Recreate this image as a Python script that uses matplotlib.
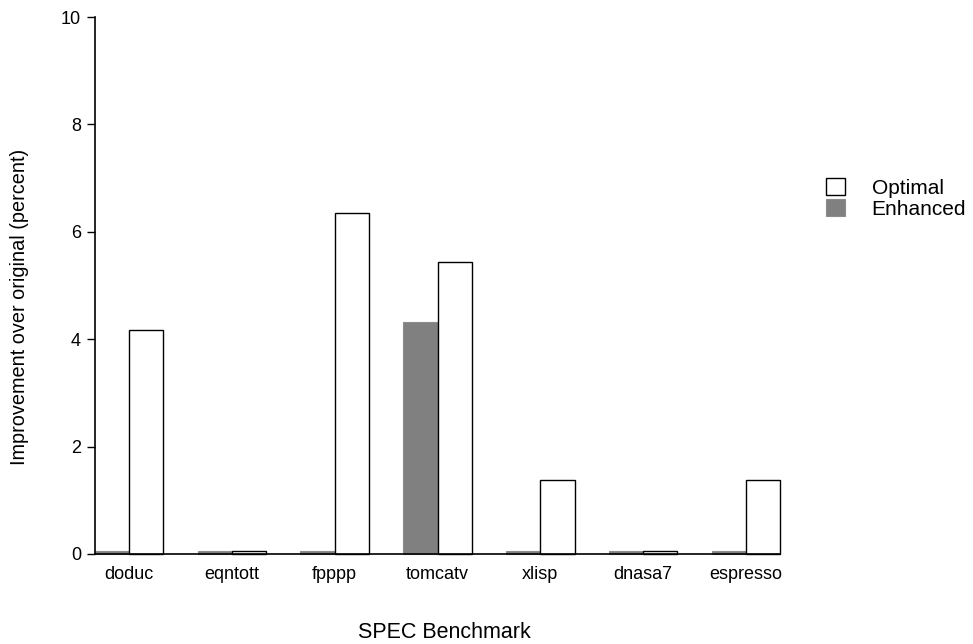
import numpy as np
import matplotlib.pyplot as plt

plt.rcParams['font.family'] = ['Liberation Sans', 'DejaVu Sans']

# Datos
benchmarks = ['doduc', 'eqntott', 'fpppp', 'tomcatv', 'xlisp', 'dnasa7', 'espresso']
enhanced = [0.05, 0.05, 0.05, 4.32, 0.05, 0.05, 0.05]
optimal = [4.18, 0.05, 6.35, 5.44, 1.38, 0.05, 1.38]

x = np.arange(len(benchmarks))
w = 1 / 3

fig = plt.figure(figsize=(9.73, 6.44), dpi=100)
ax = fig.add_axes([0.0976, 0.1398, 0.7041, 0.8338])

ax.bar(x - w / 2, enhanced, w, color='#808080', edgecolor='#8c8c8c', linewidth=0.8,
       label='Enhanced', clip_on=False)
ax.bar(x + w / 2, optimal, w, color='white', edgecolor='black', linewidth=1.0,
       label='Optimal', clip_on=False)

ax.set_xlim(-w, len(benchmarks) - 1 + w)
ax.set_ylim(0, 10)
ax.set_yticks([0, 2, 4, 6, 8, 10])
ax.set_xticks(x)
ax.set_xticklabels(benchmarks)
ax.tick_params(axis='x', length=0, pad=9, labelsize=13)
ax.tick_params(axis='y', length=6, width=1, direction='out', labelsize=13, pad=4)
ax.spines['top'].set_visible(False)
ax.spines['right'].set_visible(False)
ax.spines['left'].set_linewidth(1.2)
ax.spines['bottom'].set_linewidth(1.2)

ax.set_xlabel('SPEC Benchmark', fontsize=15.5)
ax.xaxis.set_label_coords(0.51, -0.126)
ax.set_ylabel('Improvement over original (percent)', fontsize=14.3)
ax.yaxis.set_label_coords(-0.096, 0.46)

handles, labels = ax.get_legend_handles_labels()
fig.legend(handles[::-1], labels[::-1], loc='center left', bbox_to_anchor=(0.838, 0.692),
           frameon=False, fontsize=15, handlelength=0.9, handleheight=0.9,
           handletextpad=1.3, labelspacing=0.05, borderpad=0)

plt.savefig('out.png', dpi=100)
